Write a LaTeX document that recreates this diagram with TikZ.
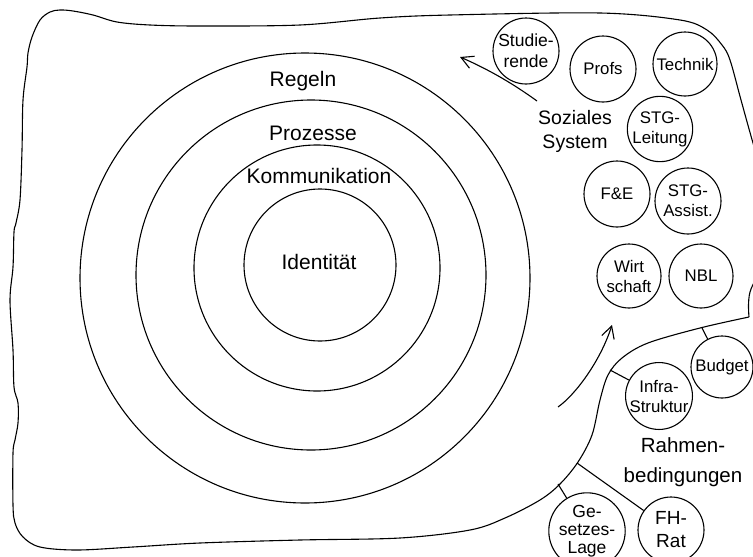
\documentclass[tikz,border=0pt]{standalone}
\usepackage{fontspec}
\setmainfont{Liberation Sans}
\usetikzlibrary{arrows.meta}
\begin{document}
\begin{tikzpicture}[x=1pt,y=-1pt, line width=1.1pt,
  big/.style={font=\fontsize{21}{28}\selectfont, align=center, inner sep=0},
  unit/.style={circle, draw, minimum size=#1, inner sep=0, align=center, font=\fontsize{16.8}{20}\selectfont},
  ring/.style={circle, draw, minimum size=#1, inner sep=0},
  arr/.style={-{Straight Barb[length=12pt,width=13pt,line width=1.1pt]}}
]
\useasboundingbox (0,0) rectangle (753,557);
\clip (0,0) rectangle (753,557);

% outer boundary
\draw plot[smooth, tension=0.55] coordinates {
 (749,317) (700,328) (648,343) (622,358) (608,375) (600,400) (592,435) (578,462)
 (560,484) (540,500) (505,518) (470,530) (400,538) (300,540) (200,543) (133,547)
 (77,550) (40,547) (23,537) (15,523) (13,505) (13,453) (15,440) (18,423) (18,403)
 (14,387) (13,350) (10,300) (13,267) (14,232) (16,223) (20,200) (22,150) (23,100)
 (27,67) (28,53) (32,37) (40,20) (50,12) (60,10) (73,11) (93,15) (117,22) (150,25)
 (200,26) (300,25) (380,18) (450,15) (600,13) (680,20) (707,30) (722,45) (730,60)
 (741,100) (753,143) (770,200) (766,255) (750,292) (749,317)};

% rings
\node[ring=450pt] (rRegeln) at (305,278) {};
\node[ring=350pt] (rProzesse) at (311,275) {};
\node[ring=246pt] (rKomm) at (317,268) {};
\node[ring=152pt] (rIdent) at (320,265) {};

\node[big, anchor=base] (lRegeln) at (303,86) {Regeln};
\node[big, anchor=base] (lProzesse) at (313,140) {Prozesse};
\node[big, anchor=base] (lKomm) at (319,183) {Kommunikation};
\node[big, anchor=base] (lIdent) at (319,269) {Identität};

% social system
\node[unit=66pt, font=\fontsize{17.5}{21}\selectfont] (stud) at (526,51) {Studie-\\rende};
\node[unit=66pt] (profs) at (603,69) {Profs};
\node[unit=64pt] (tech) at (685,64) {Technik};
\node[unit=64pt] (stgl) at (660,129) {STG-\\Leitung};
\node[unit=66pt] (fe) at (617,194) {F\&E};
\node[unit=66pt] (stga) at (688,201) {STG-\\Assist.};
\node[unit=64pt] (wirt) at (629,276) {Wirt\\schaft};
\node[unit=64pt] (nbl) at (701,276) {NBL};
\node[big, font=\fontsize{19.5}{24}\selectfont] (sozial) at (575,131) {Soziales\\System};

% framework conditions
\node[unit=62pt] (budget) at (722,367) {Budget};
\node[unit=64pt] (infra) at (659,396) {Infra-\\Struktur};
\node[unit=64pt, font=\fontsize{17.5}{18}\selectfont] (ges) at (587,531) {Ge-\\setzes-\\Lage};
\node[unit=66pt, font=\fontsize{19}{23}\selectfont] (fh) at (671,530) {FH-\\Rat};
\node[big, font=\fontsize{20.5}{30}\selectfont] (rahmen) at (683,462) {Rahmen-\\bedingungen};

\coordinate (bBudget) at (702,328);
\coordinate (bInfra) at (610,370);
\coordinate (bFH) at (577,463);
\coordinate (bGes) at (558,484);
\draw (bBudget) -- (budget);
\draw (bInfra) -- (infra);
\draw (bFH) -- (fh);
\draw (bGes) -- (ges);

% arrows
\coordinate (a1s) at (537,101);
\coordinate (a1e) at (460,57);
\draw[arr] (a1s) .. controls (515,85) and (490,70) .. (a1e);
\coordinate (a2s) at (558,407);
\coordinate (a2e) at (612,325);
\draw[arr] (a2s) .. controls (575,395) and (600,362) .. (a2e);
\end{tikzpicture}
\end{document}
